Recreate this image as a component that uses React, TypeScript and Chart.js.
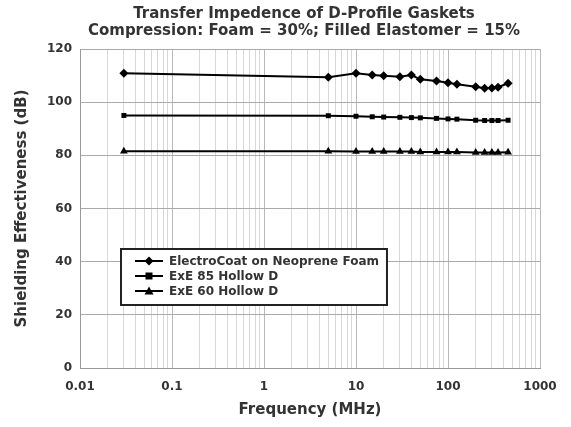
import React, { useEffect, useRef } from "react";
import { Chart, registerables } from "chart.js";

Chart.register(...registerables);

const titleLines = [
  "Transfer Impedence of D-Profile Gaskets",
  "Compression: Foam = 30%; Filled Elastomer = 15%",
];
const xAxisTitle = "Frequency (MHz)";
const yAxisTitle = "Shielding Effectiveness (dB)";

const frequencies = [0.03, 5, 10, 15, 20, 30, 40, 50, 75, 100, 125, 200, 250, 300, 350, 450];
const electroCoat = [110.9, 109.4, 110.9, 110.2, 109.9, 109.6, 110.2, 108.6, 108.0, 107.3, 106.7, 105.8, 105.2, 105.3, 105.6, 107.1];
const exe85 = [95.0, 94.9, 94.7, 94.5, 94.4, 94.3, 94.2, 94.1, 93.9, 93.7, 93.6, 93.2, 93.1, 93.1, 93.1, 93.2];
const exe60 = [81.5, 81.5, 81.4, 81.4, 81.4, 81.4, 81.4, 81.3, 81.3, 81.3, 81.3, 81.1, 81.1, 81.1, 81.1, 81.2];

const seriesNames = ["ElectroCoat on Neoprene Foam", "ExE 85 Hollow D", "ExE 60 Hollow D"];
const seriesMarkers = ["rectRot", "rect", "triangle"];

const xTickValues = [0.01, 0.1, 1, 10, 100, 1000];
const xTickLabels = ["0.01", "0.1", "1", "10", "100", "1000"];
const yTickValues = [0, 20, 40, 60, 80, 100, 120];

const FONT = "'DejaVu Sans', Verdana, sans-serif";
const TEXT = "#333333";

function isDecade(v: number) {
  const l = Math.log10(v);
  return Math.abs(l - Math.round(l)) < 1e-6;
}

function drawMarker(ctx: CanvasRenderingContext2D, style: string, x: number, y: number) {
  ctx.beginPath();
  if (style === "rect") {
    ctx.rect(x - 3.5, y - 3.5, 7, 7);
  } else if (style === "rectRot") {
    ctx.moveTo(x, y - 4.5);
    ctx.lineTo(x + 4.5, y);
    ctx.lineTo(x, y + 4.5);
    ctx.lineTo(x - 4.5, y);
    ctx.closePath();
  } else {
    ctx.moveTo(x, y - 4.5);
    ctx.lineTo(x + 4.5, y + 3.5);
    ctx.lineTo(x - 4.5, y + 3.5);
    ctx.closePath();
  }
  ctx.fill();
}

const titlePlugin = {
  id: "customTitle",
  afterDraw(chart: any) {
    const ctx = chart.ctx as CanvasRenderingContext2D;
    ctx.save();
    ctx.font = `bold 15px ${FONT}`;
    ctx.fillStyle = TEXT;
    ctx.textAlign = "center";
    ctx.textBaseline = "middle";
    titleLines.forEach((t, i) => ctx.fillText(t, 304, 14 + i * 17));
    ctx.restore();
  },
};

const legendPlugin = {
  id: "insideLegend",
  afterDraw(chart: any) {
    const ctx = chart.ctx as CanvasRenderingContext2D;
    const ds = chart.data.datasets;
    ctx.save();
    ctx.font = `bold 12px ${FONT}`;
    let maxW = 0;
    ds.forEach((d: any) => (maxW = Math.max(maxW, ctx.measureText(d.label).width)));
    const x0 = 121;
    const y0 = 249;
    const textX = 169;
    const w = textX - x0 + maxW + 8;
    const h = 56;
    ctx.fillStyle = "#ffffff";
    ctx.fillRect(x0, y0, w, h);
    ctx.strokeStyle = "#222222";
    ctx.lineWidth = 2;
    ctx.strokeRect(x0, y0, w, h);
    ds.forEach((d: any, i: number) => {
      const y = y0 + 12 + i * 15;
      ctx.strokeStyle = "#000";
      ctx.lineWidth = 2;
      ctx.beginPath();
      ctx.moveTo(135, y);
      ctx.lineTo(163, y);
      ctx.stroke();
      ctx.fillStyle = "#000";
      drawMarker(ctx, d.pointStyle, 149, y);
      ctx.fillStyle = TEXT;
      ctx.textAlign = "left";
      ctx.textBaseline = "middle";
      ctx.fillText(d.label, textX, y + 1);
    });
    ctx.restore();
  },
};

export default function App() {
  const ref = useRef<HTMLCanvasElement | null>(null);

  useEffect(() => {
    if (!ref.current) return;
    const allSeries = [electroCoat, exe85, exe60];
    const chart = new Chart(ref.current, {
      type: "line",
      data: {
        datasets: allSeries.map((vals, i) => ({
          label: seriesNames[i],
          data: frequencies.map((f, j) => ({ x: f, y: vals[j] })),
          borderColor: "#000000",
          backgroundColor: "#000000",
          borderWidth: 2,
          pointStyle: seriesMarkers[i] as any,
          pointRadius: seriesMarkers[i] === "rect" ? 3.5 : 4.5,
          pointBorderWidth: 0,
          tension: 0,
        })),
      },
      options: {
        responsive: false,
        animation: false,
        layout: { padding: { top: 49, right: 31, left: 0, bottom: 0 } },
        plugins: {
          legend: { display: false },
          title: { display: false },
          tooltip: { enabled: false },
        },
        scales: {
          x: {
            type: "logarithmic",
            min: 0.01,
            max: 1000,
            afterFit(scale: any) {
              scale.height = 59;
            },
            afterBuildTicks(scale: any) {
              const ticks: any[] = [];
              for (let e = -2; e <= 3; e++) {
                for (let m = 1; m <= 9; m++) {
                  const v = m * Math.pow(10, e);
                  if (v > 1000.0001) break;
                  ticks.push({ value: Number(v.toPrecision(6)) });
                }
              }
              scale.ticks = ticks;
            },
            ticks: {
              autoSkip: false,
              maxRotation: 0,
              minRotation: 0,
              padding: 12,
              color: TEXT,
              font: { family: FONT, size: 12, weight: "bold" },
              callback(value: any) {
                const v = Number(value);
                if (!isDecade(v)) return "";
                const idx = xTickValues.findIndex((t) => Math.abs(Math.log10(t) - Math.log10(v)) < 1e-6);
                return idx >= 0 ? xTickLabels[idx] : "";
              },
            },
            grid: {
              drawTicks: false,
              color: (c: any) => (c.tick && isDecade(c.tick.value) ? "#b8b8b8" : "#d8d8d8"),
              lineWidth: 1,
            },
            border: { display: true, color: "#9a9a9a", width: 1 },
            title: {
              display: true,
              text: xAxisTitle,
              color: TEXT,
              font: { family: FONT, size: 15, weight: "bold" },
              padding: { top: 0, bottom: 8 },
            },
          },
          y: {
            min: 0,
            max: 120,
            afterFit(scale: any) {
              scale.width = 80;
            },
            afterBuildTicks(scale: any) {
              scale.ticks = yTickValues.map((v) => ({ value: v }));
            },
            ticks: {
              padding: 8,
              color: TEXT,
              font: { family: FONT, size: 12, weight: "bold" },
            },
            grid: { drawTicks: false, color: "#aaaaaa", lineWidth: 1 },
            border: { display: true, color: "#9a9a9a", width: 1 },
            title: {
              display: true,
              text: yAxisTitle,
              color: TEXT,
              font: { family: FONT, size: 15, weight: "bold" },
              padding: { top: 13, bottom: 0 },
            },
          },
        },
      },
      plugins: [titlePlugin, legendPlugin],
    } as any);
    return () => chart.destroy();
  }, []);

  return (
    <div style={{ position: "absolute", left: 0, top: 0, width: 571, height: 427, background: "#fff" }}>
      <canvas ref={ref} width={571} height={427} style={{ display: "block" }} />
    </div>
  );
}
